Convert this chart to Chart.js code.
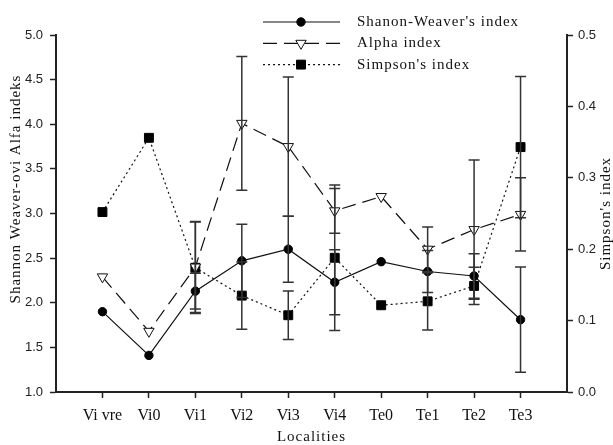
<!DOCTYPE html>
<html>
<head>
<meta charset="utf-8">
<script src="https://cdn.jsdelivr.net/npm/chart.js@4/dist/chart.umd.min.js"></script>
<style>
html, body { margin: 0; padding: 0; background: #fff; }
#wrap { width: 613px; height: 445px; }
</style>
</head>
<body>
<div id="wrap"><canvas id="diversity_chart" width="613" height="445"></canvas></div>
<script>
// values
const localities = ["Vi vre", "Vi0", "Vi1", "Vi2", "Vi3", "Vi4", "Te0", "Te1", "Te2", "Te3"];
const shannon = [1.90, 1.41, 2.13, 2.47, 2.60, 2.23, 2.46, 2.35, 2.30, 1.81];
const shannonErr = [null, null, 0.20, 0.41, 0.37, 0.365, null, 0.235, 0.25, 0.59];
const alpha = [2.29, 1.68, 2.40, 4.01, 3.75, 3.03, 3.19, 2.60, 2.82, 2.99];
const alphaErr = [null, null, 0.51, 0.75, 0.78, 0.25, null, 0.25, 0.78, 0.41];
const simpson = [0.252, 0.356, 0.174, 0.135, 0.1075, 0.188, 0.1215, 0.127, 0.1486, 0.343];
const simpsonErr = [null, null, 0.064, 0.047, 0.034, 0.102, null, 0.04, 0.026, 0.099];
const leftTicks = [1.0, 1.5, 2.0, 2.5, 3.0, 3.5, 4.0, 4.5, 5.0];
const rightTicks = [0.0, 0.1, 0.2, 0.3, 0.4, 0.5];
const leftTitle = "Shannon Weaver-ovi Alfa indeks";
const rightTitle = "Simpson's index";
const bottomTitle = "Localities";

const errorSets = [shannonErr, alphaErr, simpsonErr];
const serif = '"Liberation Serif", "Times New Roman", serif';
const sans = '"Liberation Sans", Arial, sans-serif';
const ink = '#111';

const toPoints = arr => arr.map((v, i) => ({x: i, y: v}));

const errorBars = {
    id: 'errorBars',
    afterDatasetsDraw(chart) {
        const ctx = chart.ctx;
        const xs = chart.scales.x;
        ctx.save();
        ctx.strokeStyle = '#333';
        ctx.lineWidth = 1.5;
        chart.data.datasets.forEach((ds, di) => {
            const ys = chart.scales[ds.yAxisID];
            ds.data.forEach((p, i) => {
                const e = errorSets[di][i];
                if (e == null) return;
                const x = xs.getPixelForValue(p.x);
                const top = ys.getPixelForValue(p.y + e);
                const bot = ys.getPixelForValue(p.y - e);
                ctx.beginPath();
                ctx.moveTo(x, top); ctx.lineTo(x, bot);
                ctx.moveTo(x - 5.5, top); ctx.lineTo(x + 5.5, top);
                ctx.moveTo(x - 5.5, bot); ctx.lineTo(x + 5.5, bot);
                ctx.stroke();
            });
        });
        ctx.restore();
    }
};

const titlesAndLegend = {
    id: 'titlesAndLegend',
    afterDraw(chart) {
        const ctx = chart.ctx;
        const area = chart.chartArea;
        ctx.save();
        ctx.fillStyle = ink;
        ctx.font = '15px ' + serif;
        ctx.letterSpacing = '1px';
        ctx.textBaseline = 'middle';
        ctx.textAlign = 'center';
        ctx.fillText(bottomTitle, (area.left + area.right) / 2, 437);

        ctx.save();
        ctx.translate(16, 189);
        ctx.rotate(-Math.PI / 2);
        ctx.fillText(leftTitle, 0, 0);
        ctx.restore();

        ctx.save();
        ctx.translate(606, (area.top + area.bottom) / 2);
        ctx.rotate(-Math.PI / 2);
        ctx.fillText(rightTitle, 0, 0);
        ctx.restore();

        // legend
        ctx.textAlign = 'left';
        chart.data.datasets.forEach((ds, i) => {
            const y = 22 + i * 21.3;
            ctx.save();
            ctx.strokeStyle = ds.borderColor;
            ctx.lineWidth = ds.borderWidth;
            ctx.setLineDash(ds.borderDash || []);
            ctx.beginPath();
            ctx.moveTo(263, y); ctx.lineTo(340, y);
            ctx.stroke();
            ctx.setLineDash([]);
            ctx.fillStyle = ds.pointBackgroundColor;
            ctx.strokeStyle = ds.pointBorderColor;
            ctx.lineWidth = 1;
            Chart.helpers.drawPoint(ctx, {
                pointStyle: ds.pointStyle,
                rotation: ds.pointRotation || 0,
                radius: ds.pointRadius,
                borderWidth: 1
            }, 301, y);
            ctx.restore();
            ctx.fillText(ds.label, 357, y);
        });
        ctx.restore();
    }
};

const yAxis = (pos, min, max, ticks, width, pad) => ({
    type: 'linear',
    position: pos,
    min: min,
    max: max,
    afterBuildTicks: axis => { axis.ticks = ticks.map(v => ({value: v})); },
    afterFit: axis => { axis.width = width; },
    ticks: {
        callback: v => Number(v).toFixed(1),
        font: {family: sans, size: 13},
        color: '#222',
        padding: pad
    },
    grid: {drawOnChartArea: false, tickLength: 6, tickColor: '#222', tickWidth: 1.5},
    border: {display: true, color: '#222', width: 2}
});

const ctx = document.getElementById("diversity_chart");
const diversity_chart = new Chart(ctx, {
    type: 'line',
    data: {
        datasets: [{
            label: "Shanon-Weaver's index",
            data: toPoints(shannon),
            yAxisID: 'y',
            borderColor: ink,
            borderWidth: 1.2,
            pointStyle: 'circle',
            pointRadius: 4.2,
            pointBackgroundColor: '#000',
            pointBorderColor: '#000',
            pointBorderWidth: 1
        }, {
            label: "Alpha index",
            data: toPoints(alpha),
            yAxisID: 'y',
            borderColor: ink,
            borderWidth: 1.2,
            borderDash: [14, 7],
            pointStyle: 'triangle',
            pointRotation: 180,
            pointRadius: 6,
            pointBackgroundColor: '#fff',
            pointBorderColor: ink,
            pointBorderWidth: 1
        }, {
            label: "Simpson's index",
            data: toPoints(simpson),
            yAxisID: 'y1',
            borderColor: ink,
            borderWidth: 1.2,
            borderDash: [2, 3],
            pointStyle: 'rect',
            pointRadius: 6.3,
            pointBackgroundColor: '#000',
            pointBorderColor: '#000',
            pointBorderWidth: 1
        }]
    },
    options: {
        responsive: false,
        animation: false,
        layout: {padding: {top: 35, left: 0, right: 0, bottom: 0}},
        plugins: {
            legend: {display: false},
            tooltip: {enabled: false}
        },
        scales: {
            x: {
                type: 'linear',
                min: -1,
                max: 10,
                afterBuildTicks: axis => { axis.ticks = localities.map((_, i) => ({value: i})); },
                afterFit: axis => { axis.height = 53; },
                ticks: {
                    callback: v => localities[v],
                    autoSkip: false,
                    maxRotation: 0,
                    font: {family: serif, size: 16},
                    color: ink,
                    padding: 8
                },
                grid: {drawOnChartArea: false, tickLength: 6, tickColor: '#222', tickWidth: 1.5},
                border: {display: true, color: '#222', width: 2}
            },
            y: yAxis('left', 1, 5, leftTicks, 56, 7),
            y1: yAxis('right', 0, 0.5, rightTicks, 46, 5)
        }
    },
    plugins: [errorBars, titlesAndLegend]
});
</script>
</body>
</html>
